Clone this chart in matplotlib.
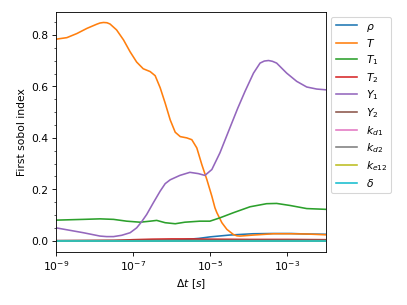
import numpy as np
import matplotlib
matplotlib.use("Agg")
import matplotlib.pyplot as plt
from matplotlib.ticker import AutoMinorLocator, NullLocator

# data (log10 of dt, index value)
T_L = [-9.0, -8.72, -8.46, -8.2, -7.95, -7.86, -7.77, -7.68, -7.6, -7.43, -7.25, -7.08, -6.91,
       -6.74, -6.56, -6.43, -6.3, -6.17, -6.04, -5.91, -5.78, -5.61, -5.48, -5.35, -5.22,
       -5.09, -4.96, -4.88, -4.83, -4.7, -4.57, -4.4, -4.31, -4.23, -3.88, -3.36, -2.93,
       -2.5, -2.0]
T_v = [0.784, 0.79, 0.806, 0.826, 0.842, 0.847, 0.849, 0.848, 0.843, 0.82, 0.781, 0.735,
       0.695, 0.669, 0.658, 0.642, 0.595, 0.535, 0.47, 0.422, 0.405, 0.4, 0.393, 0.361,
       0.296, 0.238, 0.173, 0.128, 0.109, 0.07, 0.044, 0.024, 0.019, 0.018, 0.022, 0.027,
       0.027, 0.026, 0.023]

Y1_L = [-9.0, -8.29, -7.86, -7.69, -7.51, -7.3, -7.08, -6.91, -6.78, -6.65, -6.48, -6.3,
        -6.17, -6.04, -5.79, -5.53, -5.31, -5.14, -4.96, -4.75, -4.49, -4.29, -4.1, -3.88,
        -3.71, -3.6, -3.49, -3.39, -3.28, -3.02, -2.76, -2.5, -2.24, -2.0]
Y1_v = [0.05, 0.031, 0.018, 0.016, 0.016, 0.021, 0.031, 0.05, 0.074, 0.102, 0.147, 0.193,
        0.222, 0.237, 0.254, 0.266, 0.261, 0.254, 0.277, 0.342, 0.44, 0.515, 0.581, 0.652,
        0.691, 0.699, 0.701, 0.698, 0.691, 0.652, 0.62, 0.598, 0.59, 0.587]

T1_L = [-9.0, -8.29, -7.86, -7.51, -7.17, -6.82, -6.56, -6.39, -6.17, -5.91, -5.66, -5.27,
        -5.01, -4.75, -4.4, -3.97, -3.54, -3.28, -2.93, -2.5, -2.0]
T1_v = [0.08, 0.083, 0.085, 0.083, 0.076, 0.072, 0.076, 0.079, 0.07, 0.066, 0.072, 0.076,
        0.076, 0.089, 0.109, 0.132, 0.144, 0.145, 0.137, 0.125, 0.122]

rho_L = [-9.0, -7.0, -6.0, -5.7, -5.3, -5.0, -4.5, -3.9, -3.4, -2.9, -2.5, -2.0]
rho_v = [0.0, 0.0, 0.002, 0.004, 0.009, 0.015, 0.022, 0.027, 0.028, 0.028, 0.026, 0.025]

T2_L = [-9.0, -7.5, -7.0, -6.5, -6.0, -5.5, -5.0, -4.0, -3.0, -2.0]
T2_v = [0.0, 0.001, 0.004, 0.006, 0.007, 0.007, 0.006, 0.005, 0.005, 0.004]

Y2_L = [-9.0, -6.0, -4.0, -2.0]
Y2_v = [0.0, 0.002, 0.003, 0.003]

zero_L = [-9.0, -2.0]
zero_v = [0.0, 0.0]

labels = [r'$\rho$', r'$T$', r'$T_1$', r'$T_2$', r'$Y_1$', r'$Y_2$',
          r'$k_{d1}$', r'$k_{d2}$', r'$k_{e12}$', r'$\delta$']
series = [(rho_L, rho_v), (T_L, T_v), (T1_L, T1_v), (T2_L, T2_v), (Y1_L, Y1_v),
          (Y2_L, Y2_v), (zero_L, zero_v), (zero_L, zero_v), (zero_L, zero_v), (zero_L, zero_v)]

dpi = 77
fig = plt.figure(figsize=(407.4 / dpi, 305.4 / dpi), dpi=dpi)
ax = fig.add_axes([0.1376, 0.1748, 0.6626, 0.786])

for (L, v), lab in zip(series, labels):
    ax.plot(10 ** np.array(L), v, label=lab)

ax.set_xscale('log')
ax.set_xlim(1e-9, 1e-2)
ax.set_xticks([1e-9, 1e-7, 1e-5, 1e-3])
ax.xaxis.set_minor_locator(NullLocator())
ax.yaxis.set_minor_locator(AutoMinorLocator())
ax.set_xlabel(r'$\Delta t\ [s]$')
ax.set_ylabel('First sobol index')
ax.legend(loc='upper left', bbox_to_anchor=(1, 1), labelspacing=0.36)

fig.savefig('out.png', dpi=dpi)
